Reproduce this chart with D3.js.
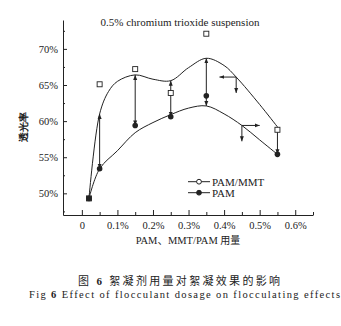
<!DOCTYPE html>
<html><head><meta charset="utf-8">
<script src="https://cdn.jsdelivr.net/npm/d3@7/dist/d3.min.js"></script>
<style>
html,body{margin:0;padding:0;background:#fff;}
text{font-family:"Liberation Serif","Times New Roman",serif;fill:#222;}
</style></head>
<body><svg id="c" width="341" height="326"></svg>
<script>
// ---- data ----
const doses = [0.02, 0.05, 0.15, 0.25, 0.35, 0.55];
const pamMmt = [49.3, 65.1, 67.2, 63.9, 72.1, 58.8];
const pam = [49.3, 53.4, 59.4, 60.6, 63.5, 55.4];
const upperDose = [0.02, 0.05, 0.075, 0.10, 0.15, 0.20, 0.25, 0.30, 0.35, 0.40, 0.434, 0.50, 0.55];
const upperVal  = [49.3, 61.0, 64.1, 65.5, 66.4, 65.8, 65.6, 67.4, 68.7, 67.7, 66.1, 62.3, 59.2];
const lowerDose = [0.02, 0.05, 0.10, 0.15, 0.20, 0.25, 0.30, 0.35, 0.40, 0.45, 0.50, 0.55];
const lowerVal  = [49.3, 53.4, 55.9, 58.4, 59.8, 60.9, 61.8, 62.1, 61.0, 59.4, 57.4, 55.4];
const arrowDose = [0.05, 0.15, 0.25, 0.35, 0.55];
const arrowFrom = [61.0, 66.4, 65.6, 68.7, 59.2];
const arrowTo   = [53.4, 59.4, 60.6, 62.1, 55.4];
const xMajor = [0, 0.1, 0.2, 0.3, 0.4, 0.5, 0.6];
const xMinor = [0.05, 0.15, 0.25, 0.35, 0.45, 0.55, 0.65];
const yMajor = [50, 55, 60, 65, 70];
const yMinor = [47.5, 52.5, 57.5, 62.5, 67.5, 72.5];
const seriesNames = ["PAM/MMT", "PAM"];
const title = "0.5% chromium trioxide suspension";
const yTitle = "透光率";

const svg = d3.select("#c");
const ink = "#222";
const serif = "Liberation Serif";
const cjk = "Noto Sans CJK SC";
const x = d3.scaleLinear().domain([-0.053, 0.65]).range([63, 313]);
const y = d3.scaleLinear().domain([47, 74]).range([215, 20]);

// arrow marker
const defs = svg.append("defs");
defs.append("marker").attr("id","ah").attr("viewBox","0 0 10 10").attr("refX",10).attr("refY",5)
  .attr("markerWidth",5).attr("markerHeight",5).attr("orient","auto-start-reverse")
  .append("path").attr("d","M0,1 L10,5 L0,9 Z").attr("fill",ink);

// axes
const fmtX = d => d === 0 ? "0" : d3.format(".1f")(d) + "%";
svg.append("g").attr("transform","translate(0,215)").attr("font-family", serif)
  .call(d3.axisBottom(x).tickValues(xMajor).tickSize(-5).tickSizeOuter(0).tickPadding(7).tickFormat(fmtX));
svg.append("g").attr("transform","translate(0,215)")
  .call(d3.axisBottom(x).tickValues(xMinor).tickSize(-3).tickSizeOuter(0).tickFormat(""))
  .select(".domain").remove();
svg.append("g").attr("transform","translate(63,0)").attr("font-family", serif)
  .call(d3.axisLeft(y).tickValues(yMajor).tickSize(-4).tickSizeOuter(0).tickPadding(5).tickFormat(d => d + "%"));
svg.append("g").attr("transform","translate(63,0)")
  .call(d3.axisLeft(y).tickValues(yMinor).tickSize(-2).tickSizeOuter(0).tickFormat(""))
  .select(".domain").remove();
svg.selectAll(".domain, .tick line").attr("stroke", ink);
svg.selectAll(".tick text").attr("font-size", 10.5).attr("font-family", serif).attr("fill", ink);

// curves
const line = d3.line().x(d => x(d[0])).y(d => y(d[1])).curve(d3.curveCatmullRom.alpha(0.5));
svg.append("path").datum(upperDose.map((d,i)=>[d, upperVal[i]]))
  .attr("d", line).attr("fill","none").attr("stroke",ink).attr("stroke-width",1);
svg.append("path").datum(lowerDose.map((d,i)=>[d, lowerVal[i]]))
  .attr("d", line).attr("fill","none").attr("stroke",ink).attr("stroke-width",1);

// vertical double arrows
svg.append("g").selectAll("line").data(arrowDose).join("line")
  .attr("x1", d => x(d)).attr("x2", d => x(d))
  .attr("y1", (d,i) => y(arrowFrom[i])).attr("y2", (d,i) => y(arrowTo[i]))
  .attr("stroke", ink).attr("stroke-width", 1)
  .attr("marker-start","url(#ah)").attr("marker-end","url(#ah)");

// callout arrows on curves
const callouts = [
  {dose: 0.434, val: 66.1, hx: 0.387, vy: 63.9},
  {dose: 0.450, val: 59.4, hx: 0.500, vy: 57.2}
];
callouts.forEach(c => {
  svg.append("line").attr("x1", x(c.dose)).attr("y1", y(c.val)).attr("x2", x(c.hx)).attr("y2", y(c.val))
    .attr("stroke", ink).attr("marker-end","url(#ah)");
  svg.append("line").attr("x1", x(c.dose)).attr("y1", y(c.val)).attr("x2", x(c.dose)).attr("y2", y(c.vy))
    .attr("stroke", ink).attr("marker-end","url(#ah)");
});

// markers
svg.append("g").selectAll("rect").data(doses).join("rect")
  .attr("x", d => x(d) - 2.5).attr("y", (d,i) => y(pamMmt[i]) - 2.5)
  .attr("width", 5).attr("height", 5).attr("fill","#fff").attr("stroke", ink).attr("stroke-width", 0.9);
svg.append("g").selectAll("circle").data(doses).join("circle")
  .attr("cx", d => x(d)).attr("cy", (d,i) => y(pam[i])).attr("r", 2.8).attr("fill", ink);

// title
svg.append("text").attr("x", 180).attr("y", 26).attr("text-anchor","middle").attr("font-size", 11).text(title);

// legend
const leg = svg.append("g");
[0,1].forEach(i => {
  const ly = 181.7 + i * 11;
  leg.append("line").attr("x1",188).attr("x2",210).attr("y1",ly).attr("y2",ly).attr("stroke",ink);
  leg.append("circle").attr("cx",199).attr("cy",ly).attr("r",2.4)
    .attr("fill", i === 0 ? "#fff" : ink).attr("stroke", ink);
  leg.append("text").attr("x",212).attr("y",ly+4).attr("font-size",11).text(seriesNames[i]);
});

// axis titles
svg.append("text").attr("x", 188).attr("y", 244).attr("text-anchor","middle").attr("font-size", 10.5)
  .html('PAM<tspan font-family="' + cjk + '">、</tspan>MMT/PAM <tspan font-family="' + cjk + '" font-size="10">用量</tspan>');
svg.append("text").attr("font-family", cjk).attr("font-weight","bold")
  .attr("font-size", 10).attr("text-anchor","middle")
  .attr("transform","translate(27,127) rotate(-90)").text(yTitle);

// caption
svg.append("text").attr("x", 78).attr("y", 285).attr("font-size", 11)
  .attr("textLength", 202).attr("lengthAdjust","spacing")
  .html('<tspan font-family="' + cjk + '">图</tspan> <tspan font-weight="bold">6</tspan>  <tspan font-family="' + cjk + '">絮凝剂用量对絮凝效果的影响</tspan>');
svg.append("text").attr("x", 29).attr("y", 298).attr("font-size", 10.5)
  .attr("textLength", 311).attr("lengthAdjust","spacing")
  .html('Fig <tspan font-weight="bold">6</tspan> Effect of flocculant dosage on flocculating effects');
</script></body></html>
